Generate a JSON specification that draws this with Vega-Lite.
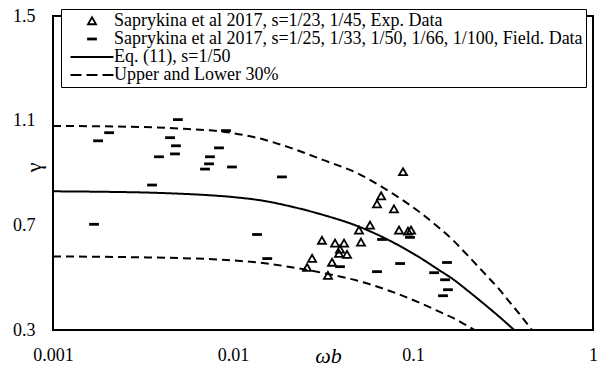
{
  "$schema": "https://vega.github.io/schema/vega-lite/v6.json",
  "width": 540,
  "height": 314,
  "autosize": "none",
  "padding": {"left": 53, "top": 16, "right": 5, "bottom": 40},
  "background": "white",
  "config": {
    "view": {"stroke": "black", "strokeWidth": 2},
    "font": "Liberation Serif"
  },
  "datasets": {
    "pts": [
      {"w": 0.088, "g": 0.904, "series": "Saprykina et al 2017, s=1/23, 1/45, Exp. Data"},
      {"w": 0.0665, "g": 0.812, "series": "Saprykina et al 2017, s=1/23, 1/45, Exp. Data"},
      {"w": 0.0631, "g": 0.781, "series": "Saprykina et al 2017, s=1/23, 1/45, Exp. Data"},
      {"w": 0.0784, "g": 0.762, "series": "Saprykina et al 2017, s=1/23, 1/45, Exp. Data"},
      {"w": 0.0577, "g": 0.70, "series": "Saprykina et al 2017, s=1/23, 1/45, Exp. Data"},
      {"w": 0.0501, "g": 0.681, "series": "Saprykina et al 2017, s=1/23, 1/45, Exp. Data"},
      {"w": 0.0514, "g": 0.635, "series": "Saprykina et al 2017, s=1/23, 1/45, Exp. Data"},
      {"w": 0.0836, "g": 0.681, "series": "Saprykina et al 2017, s=1/23, 1/45, Exp. Data"},
      {"w": 0.0938, "g": 0.677, "series": "Saprykina et al 2017, s=1/23, 1/45, Exp. Data"},
      {"w": 0.0975, "g": 0.681, "series": "Saprykina et al 2017, s=1/23, 1/45, Exp. Data"},
      {"w": 0.0312, "g": 0.642, "series": "Saprykina et al 2017, s=1/23, 1/45, Exp. Data"},
      {"w": 0.0369, "g": 0.631, "series": "Saprykina et al 2017, s=1/23, 1/45, Exp. Data"},
      {"w": 0.0414, "g": 0.631, "series": "Saprykina et al 2017, s=1/23, 1/45, Exp. Data"},
      {"w": 0.0393, "g": 0.608, "series": "Saprykina et al 2017, s=1/23, 1/45, Exp. Data"},
      {"w": 0.0388, "g": 0.592, "series": "Saprykina et al 2017, s=1/23, 1/45, Exp. Data"},
      {"w": 0.043, "g": 0.588, "series": "Saprykina et al 2017, s=1/23, 1/45, Exp. Data"},
      {"w": 0.0275, "g": 0.573, "series": "Saprykina et al 2017, s=1/23, 1/45, Exp. Data"},
      {"w": 0.0355, "g": 0.558, "series": "Saprykina et al 2017, s=1/23, 1/45, Exp. Data"},
      {"w": 0.0258, "g": 0.538, "series": "Saprykina et al 2017, s=1/23, 1/45, Exp. Data"},
      {"w": 0.0337, "g": 0.508, "series": "Saprykina et al 2017, s=1/23, 1/45, Exp. Data"},
      {"w": 0.00494, "g": 1.104, "series": "Saprykina et al 2017, s=1/25, 1/33, 1/50, 1/66, 1/100, Field. Data"},
      {"w": 0.00205, "g": 1.054, "series": "Saprykina et al 2017, s=1/25, 1/33, 1/50, 1/66, 1/100, Field. Data"},
      {"w": 0.00178, "g": 1.023, "series": "Saprykina et al 2017, s=1/25, 1/33, 1/50, 1/66, 1/100, Field. Data"},
      {"w": 0.00447, "g": 1.035, "series": "Saprykina et al 2017, s=1/25, 1/33, 1/50, 1/66, 1/100, Field. Data"},
      {"w": 0.00482, "g": 1.004, "series": "Saprykina et al 2017, s=1/25, 1/33, 1/50, 1/66, 1/100, Field. Data"},
      {"w": 0.00388, "g": 0.962, "series": "Saprykina et al 2017, s=1/25, 1/33, 1/50, 1/66, 1/100, Field. Data"},
      {"w": 0.00476, "g": 0.973, "series": "Saprykina et al 2017, s=1/25, 1/33, 1/50, 1/66, 1/100, Field. Data"},
      {"w": 0.00914, "g": 1.062, "series": "Saprykina et al 2017, s=1/25, 1/33, 1/50, 1/66, 1/100, Field. Data"},
      {"w": 0.00836, "g": 0.996, "series": "Saprykina et al 2017, s=1/25, 1/33, 1/50, 1/66, 1/100, Field. Data"},
      {"w": 0.00745, "g": 0.962, "series": "Saprykina et al 2017, s=1/25, 1/33, 1/50, 1/66, 1/100, Field. Data"},
      {"w": 0.00736, "g": 0.935, "series": "Saprykina et al 2017, s=1/25, 1/33, 1/50, 1/66, 1/100, Field. Data"},
      {"w": 0.00699, "g": 0.915, "series": "Saprykina et al 2017, s=1/25, 1/33, 1/50, 1/66, 1/100, Field. Data"},
      {"w": 0.00987, "g": 0.923, "series": "Saprykina et al 2017, s=1/25, 1/33, 1/50, 1/66, 1/100, Field. Data"},
      {"w": 0.00355, "g": 0.854, "series": "Saprykina et al 2017, s=1/25, 1/33, 1/50, 1/66, 1/100, Field. Data"},
      {"w": 0.0187, "g": 0.885, "series": "Saprykina et al 2017, s=1/25, 1/33, 1/50, 1/66, 1/100, Field. Data"},
      {"w": 0.00169, "g": 0.704, "series": "Saprykina et al 2017, s=1/25, 1/33, 1/50, 1/66, 1/100, Field. Data"},
      {"w": 0.0136, "g": 0.665, "series": "Saprykina et al 2017, s=1/25, 1/33, 1/50, 1/66, 1/100, Field. Data"},
      {"w": 0.0155, "g": 0.573, "series": "Saprykina et al 2017, s=1/25, 1/33, 1/50, 1/66, 1/100, Field. Data"},
      {"w": 0.0673, "g": 0.646, "series": "Saprykina et al 2017, s=1/25, 1/33, 1/50, 1/66, 1/100, Field. Data"},
      {"w": 0.0962, "g": 0.654, "series": "Saprykina et al 2017, s=1/25, 1/33, 1/50, 1/66, 1/100, Field. Data"},
      {"w": 0.0393, "g": 0.542, "series": "Saprykina et al 2017, s=1/25, 1/33, 1/50, 1/66, 1/100, Field. Data"},
      {"w": 0.0848, "g": 0.554, "series": "Saprykina et al 2017, s=1/25, 1/33, 1/50, 1/66, 1/100, Field. Data"},
      {"w": 0.0631, "g": 0.523, "series": "Saprykina et al 2017, s=1/25, 1/33, 1/50, 1/66, 1/100, Field. Data"},
      {"w": 0.1545, "g": 0.558, "series": "Saprykina et al 2017, s=1/25, 1/33, 1/50, 1/66, 1/100, Field. Data"},
      {"w": 0.131, "g": 0.519, "series": "Saprykina et al 2017, s=1/25, 1/33, 1/50, 1/66, 1/100, Field. Data"},
      {"w": 0.1507, "g": 0.492, "series": "Saprykina et al 2017, s=1/25, 1/33, 1/50, 1/66, 1/100, Field. Data"},
      {"w": 0.1564, "g": 0.454, "series": "Saprykina et al 2017, s=1/25, 1/33, 1/50, 1/66, 1/100, Field. Data"},
      {"w": 0.1468, "g": 0.431, "series": "Saprykina et al 2017, s=1/25, 1/33, 1/50, 1/66, 1/100, Field. Data"}
    ],
    "curves": [
      {"w": 0.001, "g": 0.83, "curve": "eq", "series": "Eq. (11), s=1/50"},
      {"w": 0.002, "g": 0.828, "curve": "eq", "series": "Eq. (11), s=1/50"},
      {"w": 0.003, "g": 0.826, "curve": "eq", "series": "Eq. (11), s=1/50"},
      {"w": 0.005, "g": 0.821, "curve": "eq", "series": "Eq. (11), s=1/50"},
      {"w": 0.007, "g": 0.816, "curve": "eq", "series": "Eq. (11), s=1/50"},
      {"w": 0.01, "g": 0.808, "curve": "eq", "series": "Eq. (11), s=1/50"},
      {"w": 0.015, "g": 0.793, "curve": "eq", "series": "Eq. (11), s=1/50"},
      {"w": 0.0207, "g": 0.773, "curve": "eq", "series": "Eq. (11), s=1/50"},
      {"w": 0.0316, "g": 0.74, "curve": "eq", "series": "Eq. (11), s=1/50"},
      {"w": 0.0488, "g": 0.698, "curve": "eq", "series": "Eq. (11), s=1/50"},
      {"w": 0.0745, "g": 0.641, "curve": "eq", "series": "Eq. (11), s=1/50"},
      {"w": 0.109, "g": 0.577, "curve": "eq", "series": "Eq. (11), s=1/50"},
      {"w": 0.141, "g": 0.527, "curve": "eq", "series": "Eq. (11), s=1/50"},
      {"w": 0.167, "g": 0.494, "curve": "eq", "series": "Eq. (11), s=1/50"},
      {"w": 0.2, "g": 0.452, "curve": "eq", "series": "Eq. (11), s=1/50"},
      {"w": 0.258, "g": 0.39, "curve": "eq", "series": "Eq. (11), s=1/50"},
      {"w": 0.3, "g": 0.352, "curve": "eq", "series": "Eq. (11), s=1/50"},
      {"w": 0.335, "g": 0.323, "curve": "eq", "series": "Eq. (11), s=1/50"},
      {"w": 0.365, "g": 0.3, "curve": "eq", "series": "Eq. (11), s=1/50"},
      {"w": 0.001, "g": 1.08, "curve": "up", "series": "Upper and Lower 30%"},
      {"w": 0.003, "g": 1.076, "curve": "up", "series": "Upper and Lower 30%"},
      {"w": 0.005, "g": 1.07, "curve": "up", "series": "Upper and Lower 30%"},
      {"w": 0.009, "g": 1.057, "curve": "up", "series": "Upper and Lower 30%"},
      {"w": 0.0135, "g": 1.035, "curve": "up", "series": "Upper and Lower 30%"},
      {"w": 0.0207, "g": 0.997, "curve": "up", "series": "Upper and Lower 30%"},
      {"w": 0.0316, "g": 0.95, "curve": "up", "series": "Upper and Lower 30%"},
      {"w": 0.0488, "g": 0.9, "curve": "up", "series": "Upper and Lower 30%"},
      {"w": 0.0745, "g": 0.828, "curve": "up", "series": "Upper and Lower 30%"},
      {"w": 0.109, "g": 0.75, "curve": "up", "series": "Upper and Lower 30%"},
      {"w": 0.141, "g": 0.688, "curve": "up", "series": "Upper and Lower 30%"},
      {"w": 0.167, "g": 0.643, "curve": "up", "series": "Upper and Lower 30%"},
      {"w": 0.2, "g": 0.587, "curve": "up", "series": "Upper and Lower 30%"},
      {"w": 0.258, "g": 0.506, "curve": "up", "series": "Upper and Lower 30%"},
      {"w": 0.3, "g": 0.457, "curve": "up", "series": "Upper and Lower 30%"},
      {"w": 0.346, "g": 0.405, "curve": "up", "series": "Upper and Lower 30%"},
      {"w": 0.4, "g": 0.352, "curve": "up", "series": "Upper and Lower 30%"},
      {"w": 0.458, "g": 0.3, "curve": "up", "series": "Upper and Lower 30%"},
      {"w": 0.001, "g": 0.581, "curve": "low", "series": "Upper and Lower 30%"},
      {"w": 0.003, "g": 0.578, "curve": "low", "series": "Upper and Lower 30%"},
      {"w": 0.005, "g": 0.575, "curve": "low", "series": "Upper and Lower 30%"},
      {"w": 0.01, "g": 0.566, "curve": "low", "series": "Upper and Lower 30%"},
      {"w": 0.015, "g": 0.555, "curve": "low", "series": "Upper and Lower 30%"},
      {"w": 0.0207, "g": 0.541, "curve": "low", "series": "Upper and Lower 30%"},
      {"w": 0.0316, "g": 0.518, "curve": "low", "series": "Upper and Lower 30%"},
      {"w": 0.0488, "g": 0.489, "curve": "low", "series": "Upper and Lower 30%"},
      {"w": 0.0745, "g": 0.449, "curve": "low", "series": "Upper and Lower 30%"},
      {"w": 0.109, "g": 0.404, "curve": "low", "series": "Upper and Lower 30%"},
      {"w": 0.141, "g": 0.369, "curve": "low", "series": "Upper and Lower 30%"},
      {"w": 0.167, "g": 0.346, "curve": "low", "series": "Upper and Lower 30%"},
      {"w": 0.2, "g": 0.316, "curve": "low", "series": "Upper and Lower 30%"},
      {"w": 0.22, "g": 0.3, "curve": "low", "series": "Upper and Lower 30%"}
    ]
  },
  "encoding": {
    "x": {
      "field": "w", "type": "quantitative",
      "scale": {"type": "log", "domain": [0.001, 1], "nice": false},
      "axis": {
        "values": [0.001, 0.01, 0.1, 1],
        "labelExpr": "format(datum.value, '~g')",
        "domain": false, "ticks": false, "grid": false,
        "labelFont": "Liberation Serif", "labelFontSize": 18, "labelColor": "black",
        "labelPadding": 16, "labelFlush": false, "labelOverlap": false,
        "title": "ωb",
        "titleFont": "Liberation Serif", "titleFontSize": 22, "titleFontStyle": "italic", "titleFontWeight": "normal",
        "titleColor": "black", "titleX": 275, "titleY": 15, "titleBaseline": "top"
      }
    },
    "y": {
      "field": "g", "type": "quantitative",
      "scale": {"domain": [0.3, 1.5], "nice": false, "zero": false},
      "axis": {
        "values": [0.3, 0.7, 1.1, 1.5],
        "domain": false, "ticks": false, "grid": false,
        "labelFont": "Liberation Serif", "labelFontSize": 18, "labelColor": "black",
        "labelPadding": 18, "labelFlush": false, "labelOverlap": false,
        "title": "γ",
        "titleFont": "Liberation Serif", "titleFontSize": 22, "titleFontWeight": "normal",
        "titleColor": "black", "titleX": -20, "titleY": 151, "titleAngle": -90, "titleBaseline": "middle", "titleAlign": "center"
      }
    }
  },
  "layer": [
    {
      "data": {"name": "curves"},
      "mark": {"type": "line", "color": "black", "strokeWidth": 2, "interpolate": "monotone", "clip": true},
      "encoding": {
        "detail": {"field": "curve", "type": "nominal"},
        "strokeDash": {
          "field": "series", "type": "nominal",
          "scale": {"domain": ["Eq. (11), s=1/50", "Upper and Lower 30%"], "range": [[1, 0], [8, 5]]},
          "legend": null
        }
      }
    },
    {
      "data": {"name": "pts"},
      "mark": {"type": "point", "filled": false, "stroke": "black", "strokeWidth": 1.8, "size": 100, "opacity": 1},
      "encoding": {
        "shape": {
          "field": "series", "type": "nominal",
          "scale": {
            "domain": [
              "Saprykina et al 2017, s=1/23, 1/45, Exp. Data",
              "Saprykina et al 2017, s=1/25, 1/33, 1/50, 1/66, 1/100, Field. Data",
              "Eq. (11), s=1/50",
              "Upper and Lower 30%"
            ],
            "range": [
              "M0,-0.75L0.8,0.65L-0.8,0.65Z",
              "M-0.8,-0.1H0.8V0.1H-0.8Z",
              "M-4.3,0H4.3",
              "M-4.3,0H-2.1M-1.1,0H1.1M2.1,0H4.3"
            ]
          },
          "legend": {
            "title": null,
            "orient": "none",
            "legendX": 8,
            "legendY": -7,
            "padding": 3,
            "strokeColor": "black",
            "fillColor": "white",
            "symbolSize": 100,
            "symbolStrokeWidth": 1.8,
            "symbolStrokeColor": "black",
            "symbolFillColor": "transparent",
            "symbolOffset": 19,
            "labelOffset": 13,
            "labelFont": "Liberation Serif",
            "labelFontSize": 18,
            "labelColor": "black",
            "labelLimit": 700,
            "rowPadding": 0,
            "encode": {"legend": {"update": {"strokeWidth": {"value": 2}}}}
          }
        }
      }
    }
  ]
}
